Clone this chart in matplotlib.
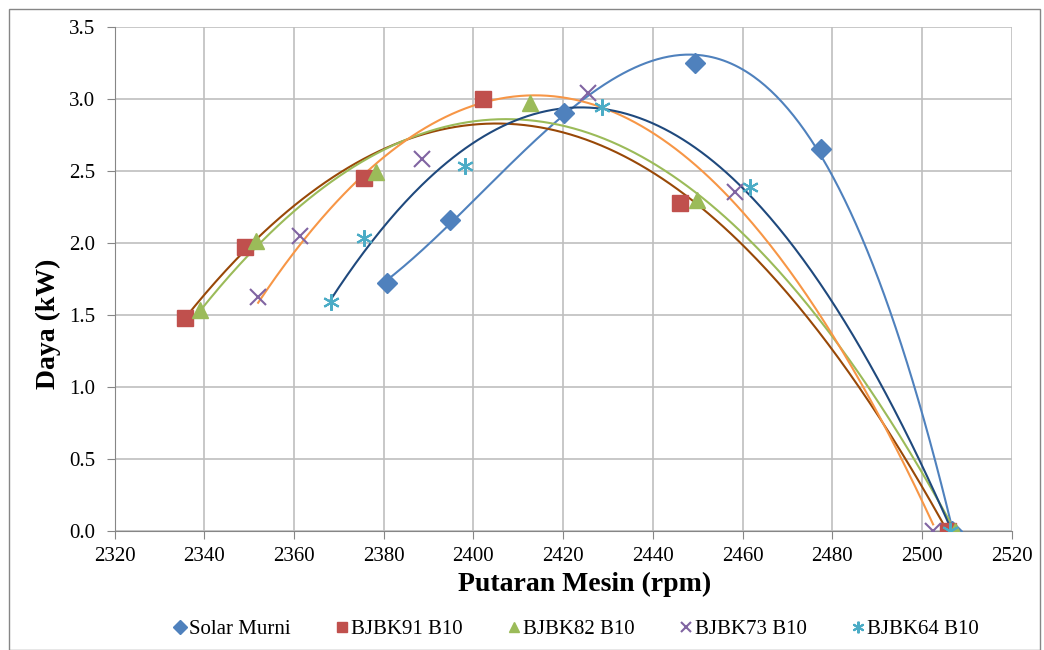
import numpy as np
import matplotlib.pyplot as plt
from matplotlib.patches import Rectangle

plt.rcParams['font.family'] = ['Liberation Serif', 'DejaVu Serif']

# data (rpm, kW)
solar_x = [2380.7, 2394.8, 2420.2, 2449.3, 2477.5, 2506.8]
solar_y = [1.72, 2.16, 2.90, 3.25, 2.65, 0.0]
b91_x = [2335.7, 2349.1, 2375.6, 2402.2, 2446.0, 2505.9]
b91_y = [1.48, 1.97, 2.45, 3.00, 2.275, 0.0]
b82_x = [2339.0, 2351.5, 2378.3, 2412.6, 2449.8, 2507.4]
b82_y = [1.53, 2.01, 2.49, 2.97, 2.30, 0.0]
b73_x = [2352.0, 2361.4, 2388.5, 2425.6, 2458.3, 2502.5]
b73_y = [1.62, 2.05, 2.58, 3.04, 2.35, 0.0]
b64_x = [2368.2, 2375.7, 2398.1, 2428.6, 2461.7, 2506.3]
b64_y = [1.59, 2.03, 2.53, 2.94, 2.39, 0.0]

series = [
    ("Solar Murni", solar_x, solar_y, "D", "#4F81BD", "#4F81BD", 3),
    ("BJBK91 B10", b91_x, b91_y, "s", "#C0504D", "#984807", 2),
    ("BJBK82 B10", b82_x, b82_y, "^", "#9BBB59", "#9BBB59", 2),
    ("BJBK73 B10", b73_x, b73_y, "x", "#8064A2", "#F79646", 2),
    ("BJBK64 B10", b64_x, b64_y, "star", "#4BACC6", "#1F497D", 2),
]

fig = plt.figure(figsize=(10.44, 6.5), dpi=100)
ax = fig.add_axes([114.6/1044, 1-530.7/650, (1011.6-114.6)/1044, (530.7-26.7)/650])

for name, xs, ys, mk, mc, lc, order in series:
    xs = np.array(xs)
    ys = np.array(ys)
    # polynomial trendline like excel
    c = np.polyfit(xs, ys, order)
    xx = np.linspace(xs.min(), xs.max(), 300)
    ax.plot(xx, np.polyval(c, xx), color=lc, linewidth=1.5, zorder=2)
    if mk == "x":
        ax.plot(xs, ys, linestyle="none", marker="x", markersize=11, markeredgewidth=1.5,
                color=mc, label=name, zorder=3)
    elif mk == "star":
        ax.plot(xs, ys, linestyle="none", marker=(6, 2, 0), markersize=12, markeredgewidth=1.5,
                color=mc, label=name, zorder=3)
    else:
        ax.plot(xs, ys, linestyle="none", marker=mk, markersize=11 if mk != "D" else 10,
                color=mc, label=name, zorder=3)

ax.set_xlim(2320, 2520)
ax.set_ylim(0, 3.5)
ax.set_xticks(np.arange(2320, 2521, 20))
ax.set_yticks(np.arange(0, 3.51, 0.5))
ax.set_yticklabels(["%.1f" % v for v in np.arange(0, 3.51, 0.5)])
ax.grid(True, color="#BFBFBF", linewidth=1.2)
ax.set_axisbelow(True)
for s in ["top", "right"]:
    ax.spines[s].set_visible(False)
for s in ["left", "bottom"]:
    ax.spines[s].set_color("#868686")
ax.tick_params(axis="both", labelsize=15, color="#868686", length=6)
ax.tick_params(axis="y", pad=8)
ax.tick_params(axis="x", pad=6)
ax.set_xlabel("Putaran Mesin (rpm)", fontsize=20, fontweight="bold")
ax.set_ylabel("Daya (kW)", fontsize=20, fontweight="bold")
ax.xaxis.set_label_coords(0.524, -0.082)
ax.yaxis.set_label_coords(-0.060, 0.41)

leg = fig.legend(loc="center", bbox_to_anchor=(0.552, 1-629/650), ncol=5, frameon=False,
                 fontsize=15, handlelength=0.6, handletextpad=0.15, columnspacing=2.15,
                 markerscale=0.7)

fig.patches.append(Rectangle((9/1044, 0), 1031/1044, 1-9/650, transform=fig.transFigure,
                             fill=False, edgecolor="#868686", linewidth=1))

fig.savefig("out.png", dpi=100)
